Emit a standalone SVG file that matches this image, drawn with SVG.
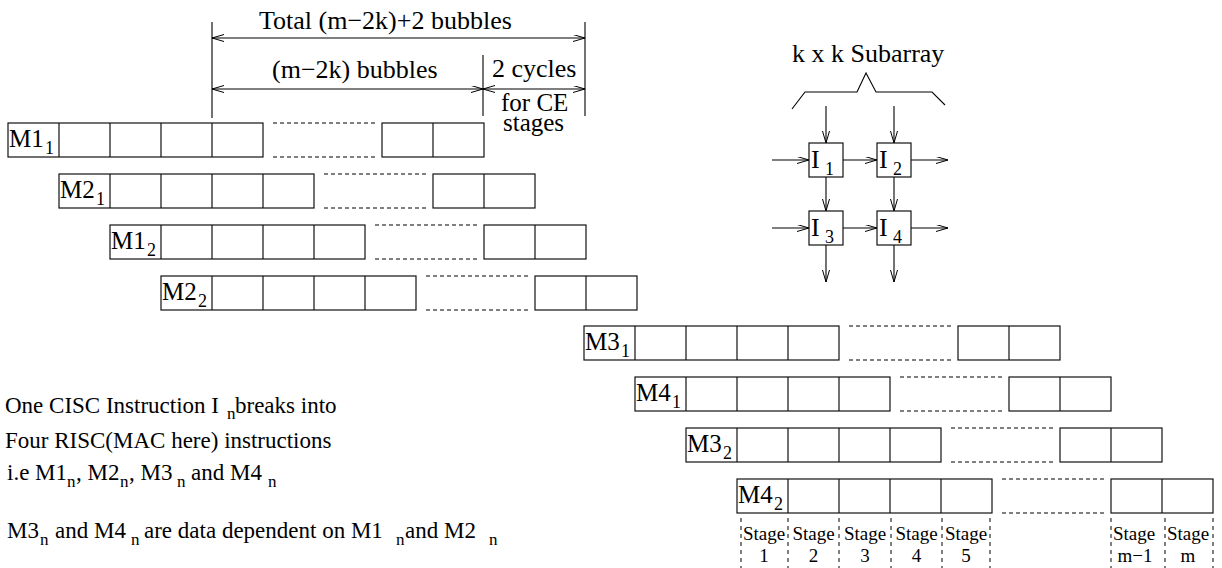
<svg xmlns="http://www.w3.org/2000/svg" xmlns:xlink="http://www.w3.org/1999/xlink" width="1222" height="568" viewBox="0 0 1222 568">
<style>
text{font-family:"Liberation Serif","Times New Roman",serif;fill:#000}
.big{font-size:26px}
.mid{font-size:25px}
.lbl{font-size:25px}
.sub{font-size:18px}
.txt{font-size:23px}
.tsub{font-size:17px}
.stg{font-size:19px}
.ln{stroke:#000;stroke-width:1.1;fill:none}
.box{stroke:#111;stroke-width:1.2;fill:none}
.dash{stroke:#000;stroke-width:1;fill:none;stroke-dasharray:4 3}
.vdash{stroke:#000;stroke-width:1;fill:none;stroke-dasharray:4 4}
.arr{marker-end:url(#ah)}
.arr2{marker-start:url(#ah);marker-end:url(#ah)}
</style>
<defs>
<marker id="ah" markerUnits="userSpaceOnUse" markerWidth="14" markerHeight="9" refX="12" refY="3.5" orient="auto-start-reverse">
<path d="M0,0 L12,3.5 L0,7" fill="none" stroke="#000" stroke-width="1"/>
</marker>
<g id="rowframe">
<rect class="box" x="0" y="0" width="255" height="34"/>
<path class="box" d="M51,0V34M102,0V34M153,0V34M204,0V34"/>
<path class="dash" d="M265,0H368M265,34H368"/>
<rect class="box" x="374" y="0" width="102" height="34"/>
<path class="box" d="M425,0V34"/>
</g>
<rect id="ibox" class="box" x="0" y="0" width="34" height="34"/>
</defs>
<rect width="1222" height="568" fill="#fff"/>

<g id="connectors">
<path class="ln" d="M212,22V118M585,22V116M483,55V116"/>
<path class="ln arr2" d="M212,38H585"/>
<path class="ln arr2" d="M212,89H483"/>
<path class="ln arr2" d="M483,89H585"/>
<polyline class="ln" points="792,109 805,92 857,92 866,73 876,92 932,92 945,105"/>
<path class="ln arr" d="M826,106V143"/>
<path class="ln arr" d="M894,106V143"/>
<path class="ln arr" d="M826,177V211"/>
<path class="ln arr" d="M894,177V211"/>
<path class="ln arr" d="M826,245V282"/>
<path class="ln arr" d="M894,245V282"/>
<path class="ln arr" d="M772,160H809"/>
<path class="ln arr" d="M843,160H877"/>
<path class="ln arr" d="M911,160H948"/>
<path class="ln arr" d="M772,228H809"/>
<path class="ln arr" d="M843,228H877"/>
<path class="ln arr" d="M911,228H948"/>
</g>

<g id="dimension-labels">
<text class="big" x="259" y="29">Total (m−2k)+2 bubbles</text>
<text class="big" x="272" y="78">(m−2k) bubbles</text>
<text class="big" x="492" y="77">2 cycles</text>
<text class="mid" x="501" y="111">for CE</text>
<text class="mid" x="503" y="131">stages</text>
</g>

<g id="subarray-label">
<text class="big" x="792" y="62">k x k Subarray</text>
</g>
<g id="I1" transform="translate(809,143)"><use xlink:href="#ibox"/><text class="big" x="2" y="25">I</text><text class="sub" x="16" y="32">1</text></g>
<g id="I2" transform="translate(877,143)"><use xlink:href="#ibox"/><text class="big" x="2" y="25">I</text><text class="sub" x="16" y="32">2</text></g>
<g id="I3" transform="translate(809,211)"><use xlink:href="#ibox"/><text class="big" x="2" y="25">I</text><text class="sub" x="16" y="32">3</text></g>
<g id="I4" transform="translate(877,211)"><use xlink:href="#ibox"/><text class="big" x="2" y="25">I</text><text class="sub" x="16" y="32">4</text></g>

<g id="row-M1-1" transform="translate(8,123)"><use xlink:href="#rowframe"/><text class="lbl" x="1" y="24">M1</text><text class="sub" x="37" y="31">1</text></g>
<g id="row-M2-1" transform="translate(59,174)"><use xlink:href="#rowframe"/><text class="lbl" x="1" y="24">M2</text><text class="sub" x="37" y="31">1</text></g>
<g id="row-M1-2" transform="translate(110,225)"><use xlink:href="#rowframe"/><text class="lbl" x="1" y="24">M1</text><text class="sub" x="37" y="31">2</text></g>
<g id="row-M2-2" transform="translate(161,276)"><use xlink:href="#rowframe"/><text class="lbl" x="1" y="24">M2</text><text class="sub" x="37" y="31">2</text></g>
<g id="row-M3-1" transform="translate(584,326)"><use xlink:href="#rowframe"/><text class="lbl" x="1" y="24">M3</text><text class="sub" x="37" y="31">1</text></g>
<g id="row-M4-1" transform="translate(635,377)"><use xlink:href="#rowframe"/><text class="lbl" x="1" y="24">M4</text><text class="sub" x="37" y="31">1</text></g>
<g id="row-M3-2" transform="translate(686,428)"><use xlink:href="#rowframe"/><text class="lbl" x="1" y="24">M3</text><text class="sub" x="37" y="31">2</text></g>
<g id="row-M4-2" transform="translate(737,479)"><use xlink:href="#rowframe"/><text class="lbl" x="1" y="24">M4</text><text class="sub" x="37" y="31">2</text></g>

<g id="stages">
<path class="vdash" d="M741,518V568M788,518V568M839,518V568M891,518V568M942,518V568M990,518V568M1111,518V568M1165,518V568M1213,518V568"/>
<g class="stg" text-anchor="middle">
<text class="stg" x="764" y="540">Stage</text><text class="stg" x="764" y="562">1</text>
<text class="stg" x="813.5" y="540">Stage</text><text class="stg" x="813.5" y="562">2</text>
<text class="stg" x="865" y="540">Stage</text><text class="stg" x="865" y="562">3</text>
<text class="stg" x="916.5" y="540">Stage</text><text class="stg" x="916.5" y="562">4</text>
<text class="stg" x="966" y="540">Stage</text><text class="stg" x="966" y="562">5</text>
<text class="stg" x="1134" y="540">Stage</text><text class="stg" x="1135" y="562">m−1</text>
<text class="stg" x="1188" y="540">Stage</text><text class="stg" x="1188" y="562">m</text>
</g>
</g>

<g id="notes">
<text class="txt" y="413"><tspan x="5">One CISC Instruction I</tspan><tspan class="tsub" x="227" y="419">n</tspan><tspan x="235" y="413">breaks into</tspan></text>
<text class="txt" x="5" y="448">Four RISC(MAC here) instructions</text>
<text class="txt" y="480"><tspan x="7">i.e M1</tspan><tspan class="tsub" x="67" y="487">n</tspan><tspan x="76" y="480">, M2</tspan><tspan class="tsub" x="120" y="487">n</tspan><tspan x="129" y="480">, M3</tspan><tspan class="tsub" x="177" y="487">n</tspan><tspan x="191" y="480">and M4</tspan><tspan class="tsub" x="268" y="487">n</tspan></text>
<text class="txt" y="538"><tspan x="7">M3</tspan><tspan class="tsub" x="40" y="545">n</tspan><tspan x="55" y="538">and M4</tspan><tspan class="tsub" x="131" y="545">n</tspan><tspan x="144" y="538">are data dependent on M1</tspan><tspan class="tsub" x="396" y="545">n</tspan><tspan x="405" y="538">and M2</tspan><tspan class="tsub" x="489" y="545">n</tspan></text>
</g>
</svg>
